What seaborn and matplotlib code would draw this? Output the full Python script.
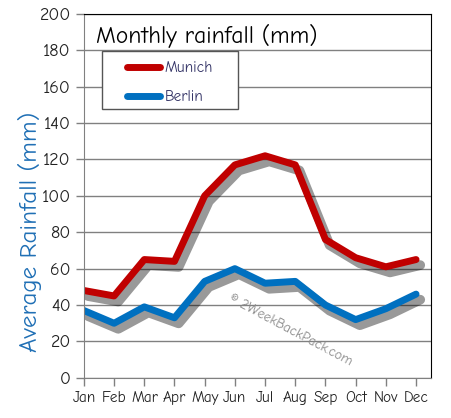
import pandas as pd
import seaborn as sns
import matplotlib.pyplot as plt
import matplotlib.patheffects as pe
from matplotlib.lines import Line2D
from matplotlib.patches import Rectangle

months = ['Jan', 'Feb', 'Mar', 'Apr', 'May', 'Jun', 'Jul', 'Aug', 'Sep', 'Oct', 'Nov', 'Dec']
munich = [48, 45, 65, 64, 100, 117, 122, 117, 76, 66, 61, 65]
berlin = [37, 30, 39, 33, 53, 60, 52, 53, 40, 32, 38, 46]

df = pd.DataFrame({'month': list(range(12)) * 2,
                   'rain': munich + berlin,
                   'city': ['Munich'] * 12 + ['Berlin'] * 12})

sns.set_style('white')
plt.rcParams['font.family'] = ['Comic Neue', 'Lato', 'DejaVu Sans']

fig = plt.figure(figsize=(4.51, 4.18), dpi=100)
ax = fig.add_axes([0.186, 0.096, 0.770, 0.871])

# drop shadow under the lines
shadow = [pe.SimpleLineShadow(offset=(3, -4), shadow_color='black', alpha=0.4, linewidth=7),
          pe.Normal()]
sns.lineplot(data=df, x='month', y='rain', hue='city',
             palette={'Munich': '#c00000', 'Berlin': '#0070c0'},
             linewidth=5, ax=ax, legend=False)
for line in ax.lines:
    line.set_solid_capstyle('round')
    line.set_solid_joinstyle('round')
    line.set_path_effects(shadow)

ax.set_xlim(0, 11.5)
ax.set_ylim(0, 200)
ax.set_yticks(range(0, 201, 20))
ax.set_xticks(range(12))
ax.set_xticklabels(months)
ax.grid(axis='y', color='#808080', linewidth=1)
ax.set_axisbelow(True)
ax.tick_params(axis='both', length=6, width=1, color='#808080', labelsize=13, labelcolor='#222222',
               left=True, bottom=True)
ax.tick_params(axis='x', labelsize=11)
for s in ['left', 'bottom']:
    ax.spines[s].set_color('#808080')
for s in ['top', 'right']:
    ax.spines[s].set_color('black')
ax.set_xlabel('')
ax.set_ylabel('Average Rainfall (mm)', fontsize=18, color='#1f6fb5')
ax.yaxis.set_label_coords(-0.12, 0.4)

ax.text(0.035, 0.94, 'Monthly rainfall (mm)', transform=ax.transAxes, fontsize=17, color='black',
        va='center', ha='left')

# legend box drawn separately so it can be wider than the entries
ax.add_patch(Rectangle((0.052, 0.739), 0.392, 0.159, transform=ax.transAxes, facecolor='white',
                       edgecolor='#555555', linewidth=1, zorder=4))
handles = [Line2D([], [], color='#c00000', lw=5, solid_capstyle='round'),
           Line2D([], [], color='#0070c0', lw=5, solid_capstyle='round')]
leg = ax.legend(handles, ['Munich', 'Berlin'], loc='upper left', bbox_to_anchor=(0.11, 0.883),
                frameon=False, fontsize=11, handlelength=2.2,
                borderpad=0.3, labelspacing=1.0, handletextpad=0.3, borderaxespad=0)
leg.set_zorder(5)
for t in leg.get_texts():
    t.set_color('#333366')

ax.text(0.595, 0.13, '\u00a9 2WeekBackPack.com', transform=ax.transAxes, fontsize=10,
        color='#888888', rotation=-28, ha='center', va='center')

fig.savefig('out.png', dpi=100)
